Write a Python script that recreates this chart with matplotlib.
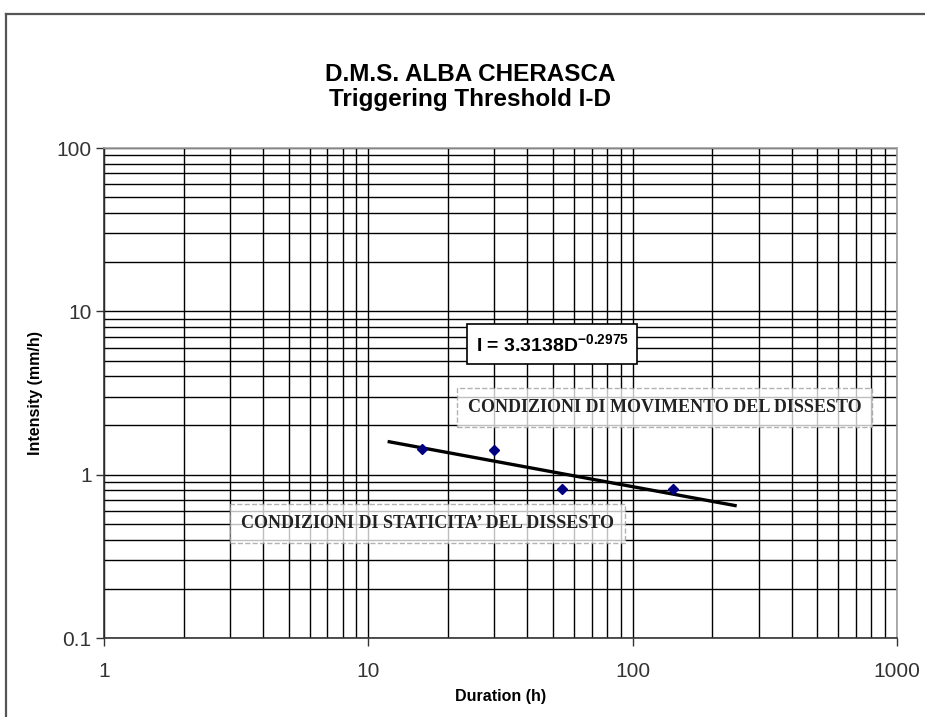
import matplotlib
matplotlib.use("Agg")
import matplotlib.pyplot as plt
from matplotlib.lines import Line2D
from matplotlib.ticker import LogLocator, FixedFormatter, FixedLocator, NullFormatter

# Dati
durata = [16, 30, 54, 142]          # Duration (h)
intensita = [1.44, 1.42, 0.82, 0.82]  # Intensity (mm/h)

# Estremi della retta di soglia I = 3.3138 D^-0.2975
soglia_d = [12, 244]
soglia_i = [1.59, 0.647]

x_ticks = [1, 10, 100, 1000]
x_labels = ["1", "10", "100", "1000"]
y_ticks = [0.1, 1, 10, 100]
y_labels = ["0.1", "1", "10", "100"]

titolo = "D.M.S. ALBA CHERASCA\nTriggering Threshold I-D"
equazione = r"I = 3.3138D$^{-0.2975}$"
testo_mov = "CONDIZIONI DI MOVIMENTO DEL DISSESTO"
testo_stat = "CONDIZIONI DI STATICITA\u2019 DEL DISSESTO"

plt.rcParams["font.family"] = ["Liberation Sans", "DejaVu Sans"]
plt.rcParams["mathtext.fontset"] = "custom"
plt.rcParams["mathtext.rm"] = "Liberation Sans:bold"
plt.rcParams["mathtext.bf"] = "Liberation Sans:bold"
plt.rcParams["mathtext.default"] = "bf"

fig = plt.figure(figsize=(9.25, 7.17), dpi=100)
ax = fig.add_axes([104 / 925, 1 - 638 / 717, 793 / 925, 490 / 717])

# cornice esterna (tagliata a destra e in basso)
fig.add_artist(Line2D([6 / 925, 6 / 925], [0, 1 - 14 / 717], color="#555555", lw=1.6,
                      transform=fig.transFigure))
fig.add_artist(Line2D([6 / 925, 1], [1 - 14 / 717, 1 - 14 / 717], color="#555555", lw=1.6,
                      transform=fig.transFigure))

ax.set_xscale("log")
ax.set_yscale("log")
ax.set_xlim(1, 1000)
ax.set_ylim(0.1, 100)

ax.xaxis.set_major_locator(FixedLocator(x_ticks))
ax.xaxis.set_major_formatter(FixedFormatter(x_labels))
ax.yaxis.set_major_locator(FixedLocator(y_ticks))
ax.yaxis.set_major_formatter(FixedFormatter(y_labels))
ax.xaxis.set_minor_locator(LogLocator(base=10, subs=range(2, 10)))
ax.yaxis.set_minor_locator(LogLocator(base=10, subs=range(2, 10)))
ax.xaxis.set_minor_formatter(NullFormatter())
ax.yaxis.set_minor_formatter(NullFormatter())

ax.grid(True, which="both", color="black", lw=1.0)
ax.tick_params(which="minor", length=0)
ax.tick_params(which="major", length=6, width=1, color="#333333",
               labelsize=15, labelcolor="#333333", pad=3)
ax.tick_params(axis="x", which="major", pad=11)

for s in ["left", "bottom"]:
    ax.spines[s].set_color("#333333")
    ax.spines[s].set_linewidth(1.2)
for s in ["top", "right"]:
    ax.spines[s].set_color("#a0a0a0")
    ax.spines[s].set_linewidth(1.2)

ax.plot(soglia_d, soglia_i, color="black", lw=2.4, zorder=4)
ax.plot(durata, intensita, linestyle="none", marker="D", markersize=5,
        color="#000080", zorder=5)

ax.set_xlabel("Duration (h)", fontsize=11.5, fontweight="bold", va="center")
ax.set_ylabel("Intensity (mm/h)", fontsize=11.5, fontweight="bold", va="center")
ax.xaxis.set_label_coords(0.5, -0.120)
ax.yaxis.set_label_coords(-0.087, 0.5)

fig.text(0.508, 1 - 87 / 717, titolo, ha="center", va="center", fontsize=17.5,
         fontweight="bold", linespacing=1.1)

ax.text(0.565, 0.600, equazione, transform=ax.transAxes, ha="center", va="center",
        fontsize=14, fontweight="bold", zorder=6,
        bbox=dict(boxstyle="square,pad=0.45", facecolor="white", edgecolor="black", lw=1.2))

box_tratteggio = dict(boxstyle="square,pad=0.6", facecolor="white", alpha=0.75,
                      edgecolor="#999999", linestyle="--", lw=1.0)
ax.text(0.707, 0.471, testo_mov, transform=ax.transAxes, ha="center", va="center",
        fontsize=13, fontweight="bold", family="Liberation Serif", color="#222222",
        zorder=6, bbox=box_tratteggio)
ax.text(0.408, 0.234, testo_stat, transform=ax.transAxes, ha="center", va="center",
        fontsize=13, fontweight="bold", family="Liberation Serif", color="#222222",
        zorder=6, bbox=box_tratteggio)

fig.savefig("out.png", dpi=100)
